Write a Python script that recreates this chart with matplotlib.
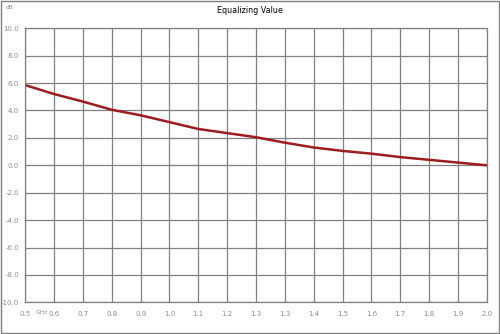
import matplotlib
matplotlib.use("Agg")
import matplotlib.pyplot as plt
from matplotlib.patches import Rectangle
import numpy as np

# 17 equally spaced frequency points, Excel-style rounded category labels
freq_labels = ["0.5", "0.6", "0.7", "0.8", "0.9", "1.0", "1.1", "1.2", "1.3",
               "1.3", "1.4", "1.5", "1.6", "1.7", "1.8", "1.9", "2.0"]
eq_db = [5.85, 5.2, 4.65, 4.05, 3.65, 3.15, 2.65, 2.35, 2.05,
         1.65, 1.3, 1.05, 0.85, 0.6, 0.4, 0.2, 0.0]
y_ticks = np.arange(-10, 10.1, 2)

GRID = "#808080"
LINE = "#9e1b20"
TXT = "#8c8c8c"

fig = plt.figure(figsize=(5, 3.34), dpi=100)
ax = fig.add_axes([0.0506, 0.0949, 0.9228, 0.8204])

x = np.arange(len(eq_db))
ax.plot(x, eq_db, color=LINE, lw=1.8, solid_joinstyle="round", solid_capstyle="round")

ax.set_xlim(0, len(eq_db) - 1)
ax.set_ylim(-10, 10)
ax.set_xticks(x)
ax.set_xticklabels(freq_labels)
ax.set_yticks(y_ticks)
ax.set_yticklabels([f"{v:.1f}" for v in y_ticks])
ax.tick_params(length=0, labelsize=5.0, colors=TXT, pad=6)
ax.tick_params(axis="y", pad=4.5)
ax.grid(True, color=GRID, lw=0.9)
for s in ax.spines.values():
    s.set_color(GRID); s.set_linewidth(0.9)
ax.set_axisbelow(True)

fig.text(0.5, 0.970, "Equalizing Value", ha="center", va="center", fontsize=5.8, color="black")
fig.text(0.0106, 0.978, "dB", ha="left", va="center", fontsize=4.2, color=TXT)
fig.text(0.071, 0.065, "GHz", ha="left", va="center", fontsize=4.2, color=TXT)

fig.add_artist(Rectangle((0.002, 0.003), 0.995, 0.993, transform=fig.transFigure,
                         fill=False, edgecolor=GRID, lw=1.0))

fig.savefig("out.png", dpi=100)
